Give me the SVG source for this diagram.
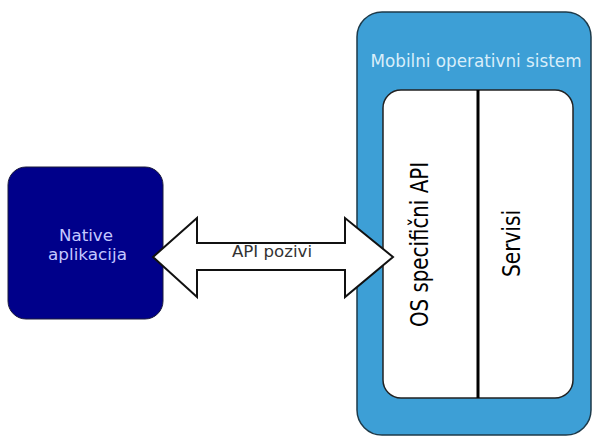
<svg xmlns="http://www.w3.org/2000/svg" width="595" height="437" viewBox="0 0 595 437">
<style>
text{font-family:"DejaVu Sans","Liberation Sans",sans-serif}
.lbl{fill:#c4c8ff;font-size:16.5px;text-anchor:middle}
.os{fill:#d8eefa;font-size:16.8px;text-anchor:middle}
.blk{fill:#000;font-size:24px;text-anchor:middle}
.api{fill:#333;font-size:16px;text-anchor:middle}
</style>
<rect width="595" height="437" fill="#fff"/>
<g id="native">
<rect x="8" y="167" width="155" height="152" rx="18" fill="#00008a" stroke="#1a1a3a" stroke-width="1"/>
<text class="lbl" x="86" y="241" textLength="54" lengthAdjust="spacingAndGlyphs">Native</text>
<text class="lbl" x="87.5" y="260" textLength="79" lengthAdjust="spacingAndGlyphs">aplikacija</text>
</g>
<g id="mobilni-os">
<rect x="357" y="12" width="234" height="423" rx="25" fill="#3d9fd6" stroke="#1d3a4a" stroke-width="1.5"/>
<text class="os" x="476" y="67">Mobilni operativni sistem</text>
</g>
<g id="inner">
<rect x="383" y="90" width="190" height="308" rx="18" fill="#fff" stroke="#222" stroke-width="1.5"/>
<line x1="478" y1="90" x2="478" y2="398" stroke="#000" stroke-width="3"/>
</g>
<g id="os-api">
<text class="blk" transform="translate(428,244.5) rotate(-90)" textLength="165" lengthAdjust="spacingAndGlyphs">OS specifični API</text>
</g>
<g id="servisi">
<text class="blk" transform="translate(520,243.5) rotate(-90)" textLength="67" lengthAdjust="spacingAndGlyphs">Servisi</text>
</g>
<g id="connectors">
<polygon points="153,257 197,218 197,243 345,243 345,218 393,257 345,297 345,270 197,270 197,297" fill="#fff" stroke="#111" stroke-width="2" stroke-linejoin="miter"/>
<text class="api" x="272" y="257" textLength="80" lengthAdjust="spacingAndGlyphs">API pozivi</text>
</g>
</svg>
